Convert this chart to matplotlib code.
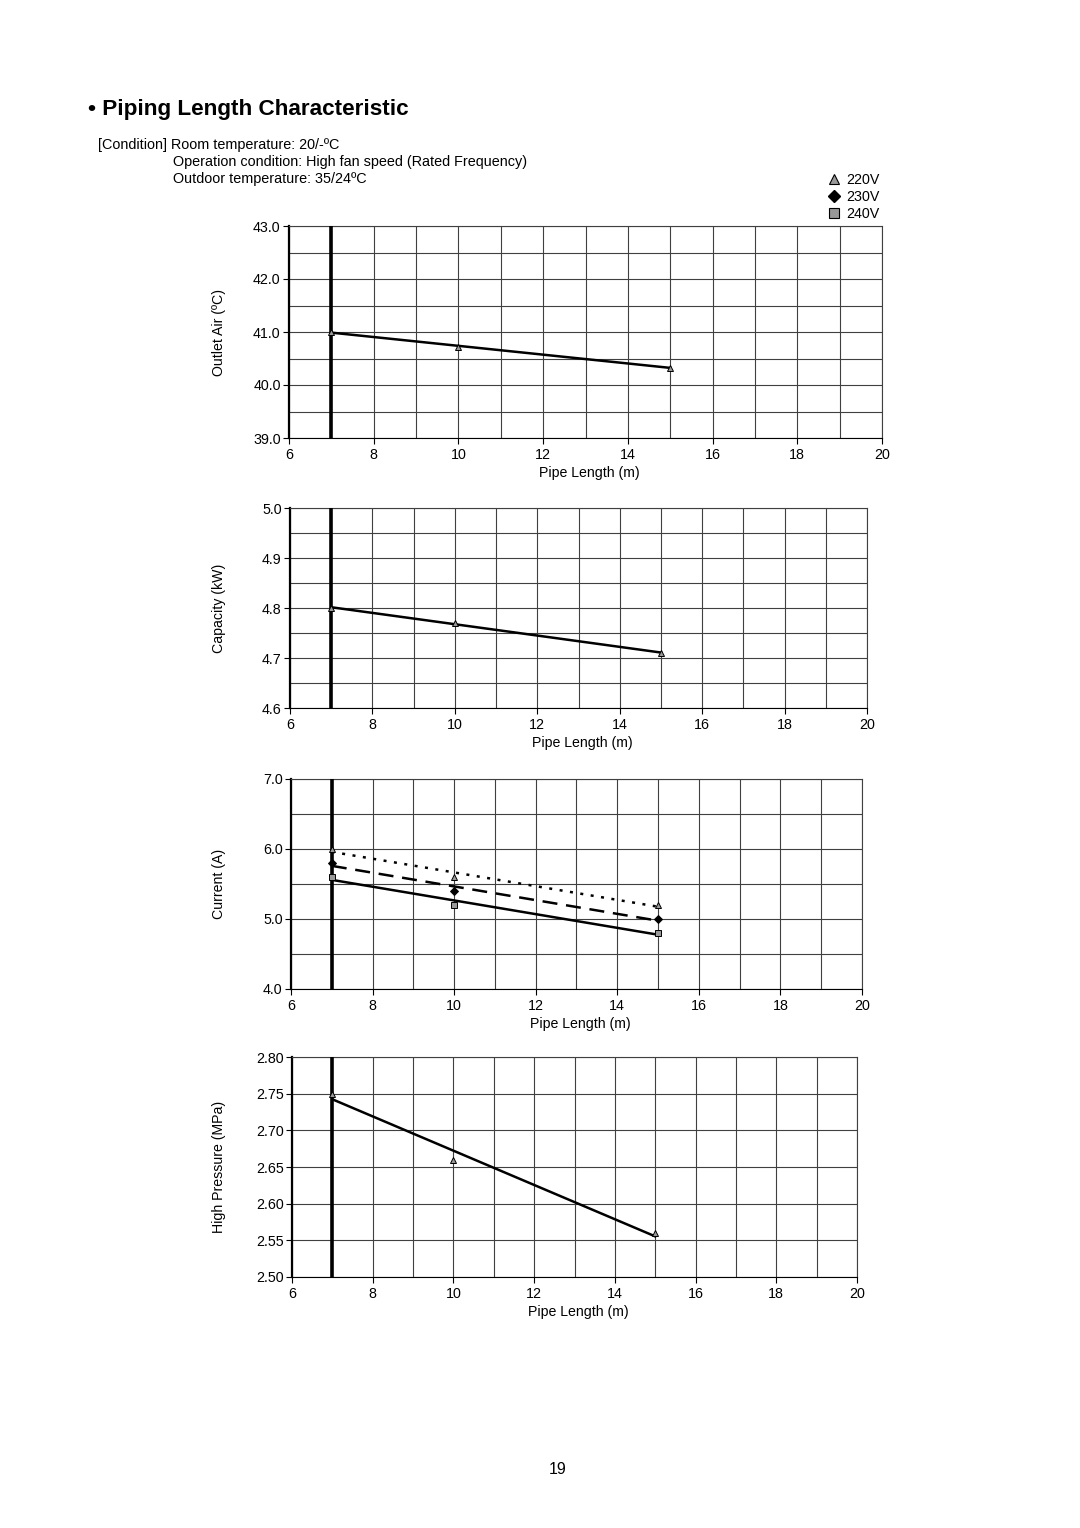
import numpy as np
import matplotlib
matplotlib.use("Agg")
import matplotlib.pyplot as plt
from matplotlib.lines import Line2D

plt.rcParams['font.family'] = ['Liberation Sans', 'DejaVu Sans']

# ---- data ----
pipe_len = [7, 10, 15]

outlet_220 = [41.0, 40.72, 40.33]
capacity_220 = [4.80, 4.77, 4.71]
current_220 = [6.0, 5.6, 5.2]
current_230 = [5.8, 5.4, 5.0]
current_240 = [5.6, 5.2, 4.8]
pressure_220 = [2.75, 2.66, 2.56]

W, H = 1080, 1528
fig = plt.figure(figsize=(W / 100, H / 100), dpi=100)


def box(x0, y0, x1, y1):
    """pixel box -> figure fraction rect"""
    return [x0 / W, 1 - y1 / H, (x1 - x0) / W, (y1 - y0) / H]


def trend(x, y):
    """linear trendline between first and last x"""
    k, b = np.polyfit(x, y, 1)
    xs = np.array([x[0], x[-1]])
    return xs, k * xs + b


def panel(rect, ylim, ymajor, yminor, fmt, ylabel, series):
    ax = fig.add_axes(box(*rect))
    ax.set_xlim(6, 20)
    ax.set_ylim(*ylim)
    ax.set_xticks(np.arange(6, 21, 2))
    ax.set_xticks(np.arange(6, 21, 1), minor=True)
    ax.set_yticks(np.arange(ylim[0], ylim[1] + 1e-9, ymajor))
    if yminor:
        ax.set_yticks(np.arange(ylim[0], ylim[1] + 1e-9, yminor), minor=True)
    ax.yaxis.set_major_formatter(plt.FormatStrFormatter(fmt))
    ax.grid(True, which='both', color='0.25', lw=0.8)
    ax.tick_params(which='major', direction='out', length=4, width=0.8,
                   labelsize=10.3)
    ax.tick_params(axis='x', which='major', pad=3)
    ax.tick_params(axis='y', which='major', pad=2)
    ax.tick_params(which='minor', length=0)
    for s in ax.spines.values():
        s.set_color('0.25')
        s.set_linewidth(0.8)
    ax.spines['left'].set_color('black')
    ax.spines['left'].set_linewidth(1.6)
    ax.spines['bottom'].set_color('black')
    ax.axvline(7, color='black', lw=2.6, zorder=3)
    for y, mk, mfc, ls in series:
        xs, ys = trend(pipe_len, y)
        ax.plot(xs, ys, color='black', lw=1.8, ls=ls, zorder=4)
        ax.plot(pipe_len, y, ls='none', marker=mk, ms=4.5, mfc=mfc,
                mec='black', mew=0.7, zorder=5)
    cx = (rect[0] + rect[2]) / 2
    fig.text(219 / W, 1 - (rect[1] + rect[3]) / 2 / H, ylabel, rotation=90,
             ha='center', va='center', fontsize=10.2)
    fig.text(cx / W + 4 / W, 1 - (rect[3] + 35) / H, 'Pipe Length (m)',
             ha='center', va='center', fontsize=10.2)
    return ax


panel((289, 226, 882, 438), (39.0, 43.0), 1.0, 0.5, '%.1f', 'Outlet Air (ºC)',
      [(outlet_220, '^', '0.6', '-')])
panel((290, 508, 867, 708), (4.6, 5.0), 0.1, 0.05, '%.1f', 'Capacity (kW)',
      [(capacity_220, '^', '0.6', '-')])
panel((291, 779, 862, 989), (4.0, 7.0), 1.0, 0.5, '%.1f', 'Current (A)',
      [(current_220, '^', '0.6', (0, (1.2, 3.0))),
       (current_230, 'D', 'black', (0, (6, 3.5))),
       (current_240, 's', '0.6', '-')])
panel((292, 1057, 857, 1277), (2.50, 2.80), 0.05, None, '%.2f', 'High Pressure (MPa)',
      [(pressure_220, '^', '0.6', '-')])

# ---- header text ----
fig.text(88 / W, 1 - 110 / H, '• Piping Length Characteristic', fontsize=16.2,
         fontweight='bold', va='center', ha='left')
fig.text(98 / W, 1 - 145 / H, '[Condition] Room temperature: 20/-ºC',
         fontsize=10.35, va='center')
fig.text(173 / W, 1 - 162 / H, 'Operation condition: High fan speed (Rated Frequency)',
         fontsize=10.35, va='center')
fig.text(173 / W, 1 - 179 / H, 'Outdoor temperature: 35/24ºC',
         fontsize=10.35, va='center')

handles = [
    Line2D([], [], ls='none', marker='^', ms=7, mfc='0.6', mec='black', mew=0.8),
    Line2D([], [], ls='none', marker='D', ms=6, mfc='black', mec='black'),
    Line2D([], [], ls='none', marker='s', ms=7, mfc='0.6', mec='black', mew=0.8),
]
fig.legend(handles, ['220V', '230V', '240V'], loc='upper left',
           bbox_to_anchor=(828 / W, 1 - 173 / H), frameon=False, fontsize=10.3,
           handlelength=0.9, handletextpad=0.4, labelspacing=0.22, borderpad=0,
           borderaxespad=0)

fig.text(558 / W, 1 - 1469 / H, '19', fontsize=11.5, ha='center', va='center')

fig.savefig('out.png', dpi=100)
